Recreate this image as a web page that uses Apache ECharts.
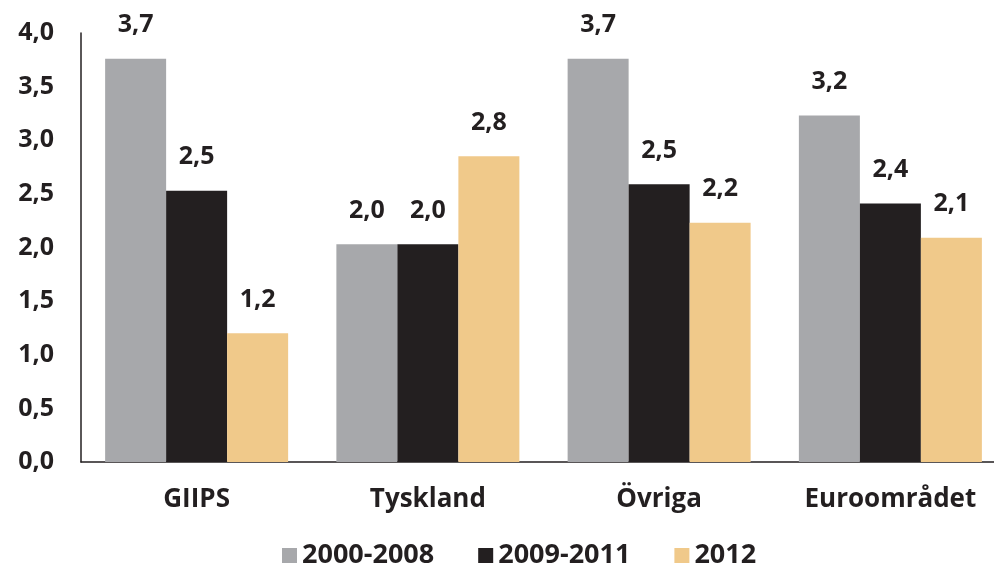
<!DOCTYPE html>
<html>
<head>
<meta charset="utf-8">
<script src="https://cdn.jsdelivr.net/npm/echarts@6/dist/echarts.min.js"></script>
<style>html,body{margin:0;padding:0;background:#fff}#c{width:994px;height:565px}</style>
</head>
<body>
<div id="c"></div>
<script>
const categories = ['GIIPS', 'Tyskland', 'Övriga', 'Euroområdet'];
const seriesNames = ['2000-2008', '2009-2011', '2012'];
const s2000_2008 = [3.76, 2.03, 3.76, 3.23];
const s2009_2011 = [2.53, 2.03, 2.59, 2.41];
const s2012 = [1.20, 2.85, 2.23, 2.09];
const labels2000_2008 = ['3,7', '2,0', '3,7', '3,2'];
const labels2009_2011 = ['2,5', '2,0', '2,5', '2,4'];
const labels2012 = ['1,2', '2,8', '2,2', '2,1'];
const yTicks = [0, 0.5, 1, 1.5, 2, 2.5, 3, 3.5, 4];

const FONT = '"Open Sans", sans-serif';
const TXT = '#231F20';
const colors = ['#A7A8AB', '#231F20', '#F0C98A'];

function mk(name, data, lbls, color) {
  return {
    name: name, type: 'bar', data: data, barWidth: 61, barGap: '0%',
    itemStyle: { color: color },
    label: {
      show: true, position: 'top', distance: 21,
      formatter: p => lbls[p.dataIndex],
      fontFamily: FONT, fontWeight: 'bold', fontSize: 25, color: TXT
    }
  };
}

const chart = echarts.init(document.getElementById('c'));
chart.setOption({
  animation: false,
  color: colors,
  grid: { left: 81, width: 925, top: 33, height: 429, containLabel: false, outerBoundsMode: 'none' },
  legend: {
    left: 277, top: 537, itemWidth: 15, itemHeight: 15, itemGap: 44,
    icon: 'rect',
    textStyle: { fontFamily: FONT, fontWeight: 'bold', fontSize: 27, color: TXT },
    data: seriesNames
  },
  xAxis: {
    type: 'category', data: categories,
    axisLine: { lineStyle: { color: TXT, width: 1.5 } },
    axisTick: { show: false },
    axisLabel: { margin: 25, fontFamily: FONT, fontWeight: 'bold', fontSize: 26, color: TXT }
  },
  yAxis: {
    type: 'value', min: 0, max: 4, interval: 0.5,
    axisLine: { show: true, lineStyle: { color: TXT, width: 1.5 } },
    axisTick: { show: false },
    splitLine: { show: false },
    axisLabel: {
      margin: 27, fontFamily: FONT, fontWeight: 'bold', fontSize: 25, color: TXT,
      formatter: v => { const i = yTicks.indexOf(v); return i >= 0 ? yTicks[i].toFixed(1).replace('.', ',') : ''; }
    }
  },
  series: [
    mk(seriesNames[0], s2000_2008, labels2000_2008, colors[0]),
    mk(seriesNames[1], s2009_2011, labels2009_2011, colors[1]),
    mk(seriesNames[2], s2012, labels2012, colors[2])
  ]
});
</script>
</body>
</html>
